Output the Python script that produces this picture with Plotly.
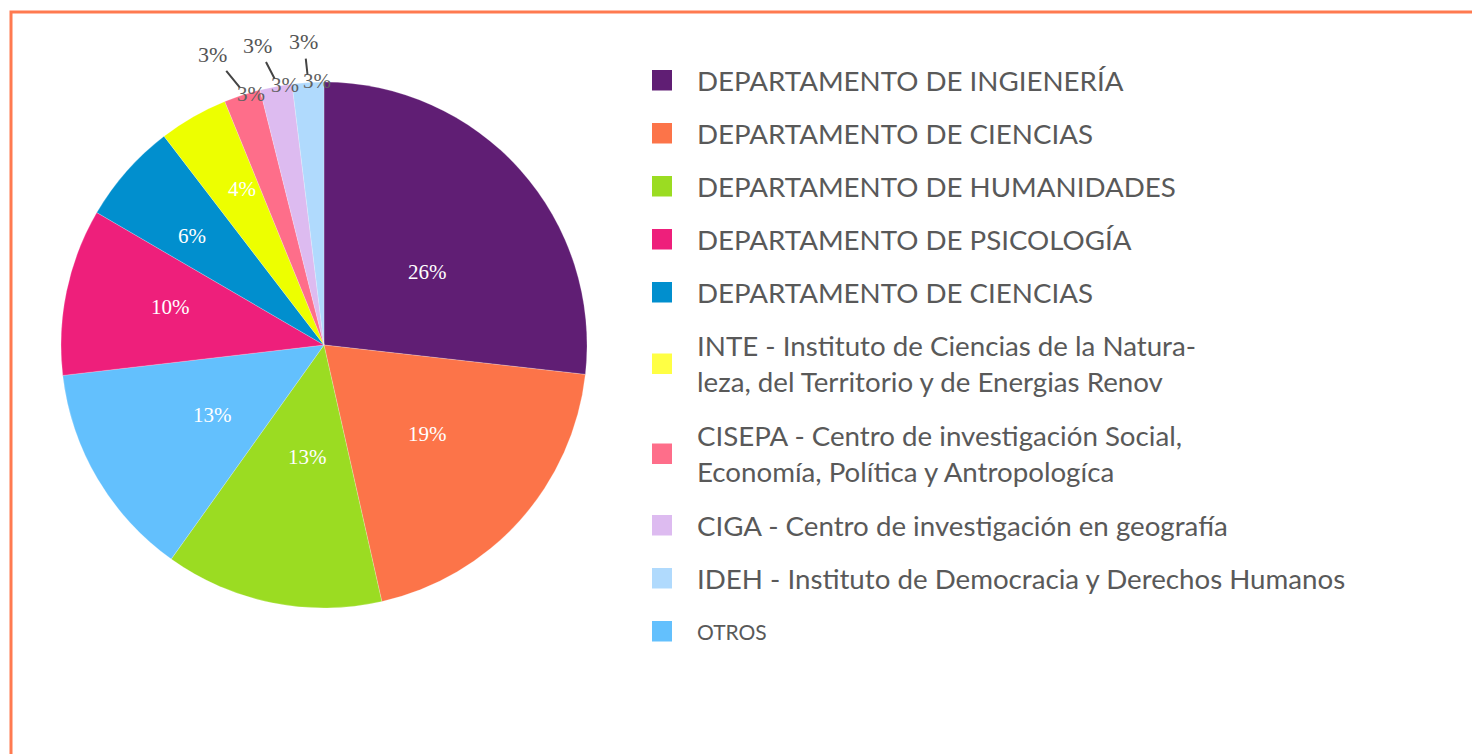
import math
import plotly.graph_objects as go

W, H = 1472, 754

# ---------------- data (legend order) ----------------
categories = [
    "DEPARTAMENTO DE INGIENERÍA",
    "DEPARTAMENTO DE CIENCIAS",
    "DEPARTAMENTO DE HUMANIDADES",
    "DEPARTAMENTO DE PSICOLOGÍA",
    "DEPARTAMENTO DE CIENCIAS",
    "INTE - Instituto de Ciencias de la Natura-<br>leza, del Territorio y de Energias Renov",
    "CISEPA - Centro de investigación Social,<br>Economía, Política y Antropologíca",
    "CIGA - Centro de investigación en geografía",
    "IDEH - Instituto de Democracia y Derechos Humanos",
    "OTROS",
]
shares = [26.8, 19.7, 13.4, 10.25, 6.2, 4.25, 2.25, 1.97, 1.94, 13.3]
pct_labels = ["26%", "19%", "13%", "10%", "6%", "4%", "3%", "3%", "3%", "13%"]
colors = ["#601E74", "#FC7449", "#9BDC22", "#EE1F7B", "#018FCE",
          "#EDFF00", "#FE6E8A", "#DDBBF0", "#B0DAFD", "#63C0FD"]
legend_colors = ["#601E74", "#FC7449", "#9BDC22", "#EE1F7B", "#018FCE",
                 "#FFFF44", "#FE6E8A", "#DDBBF0", "#B0DAFD", "#63C0FD"]
# order of the slices clockwise from 12 o'clock
pie_order = [0, 1, 2, 9, 3, 4, 5, 6, 7, 8]

# ---------------- layout / style settings (pie order) ----------------
CX, CY, R = 324, 345, 263  # pie centre / radius in px
label_rfrac = [0.48, 0.52, 0.43, 0.50, 0.60, 0.65, 0.67, 1.0, 1.0, 1.0]
label_dang = [6.5, -1.0, -3.0, -1.5, 2.0, -1.7, 2.2, 0, 0, 0]
out_dang = [0, 0, 0, 0, 0, 0, 0, -2.8, -2.0, -0.3]
out_r = [0, 0, 0, 0, 0, 0, 0, 48, 44, 41]
TXT = "#595959"
SERIF = "Liberation Serif"
SANS = "Lato"


def px2paper(x, y):
    return x / W, 1 - y / H


def polar(r, ang_deg):
    a = math.radians(ang_deg)
    return CX + r * math.sin(a), CY - r * math.cos(a)


p_labels = [categories[i].replace("<br>", " ") + "\u200b" * k for k, i in enumerate(pie_order)]
p_values = [shares[i] for i in pie_order]
p_colors = [colors[i] for i in pie_order]
p_text = [pct_labels[i] for i in pie_order]

fig = go.Figure()
fig.add_trace(go.Pie(
    labels=p_labels,
    values=p_values,
    text=p_text,
    textinfo="none",
    marker=dict(colors=p_colors, line=dict(color="rgba(255,255,255,0.35)", width=0.6)),
    sort=False,
    direction="clockwise",
    rotation=0,
    showlegend=False,
    hoverinfo="label+text",
    domain=dict(x=[(CX - R) / W, (CX + R) / W],
                y=[1 - (CY + R) / H, 1 - (CY - R) / H]),
))

annotations = []
shapes = []

# percentage labels, positioned from the cumulative slice angles
total = sum(p_values)
cum = 0.0
for k, v in enumerate(p_values):
    a0 = cum / total * 360
    cum += v
    a1 = cum / total * 360
    mid = (a0 + a1) / 2
    if v >= 3:
        x, y = px2paper(*polar(label_rfrac[k] * R, mid + label_dang[k]))
        annotations.append(dict(x=x, y=y, xref="paper", yref="paper", text=p_text[k],
                                showarrow=False, xanchor="center", yanchor="middle",
                                font=dict(family=SERIF, size=21, color="white")))
        continue
    # thin slice: label on the rim
    x, y = px2paper(*polar(R, mid))
    annotations.append(dict(x=x, y=y, xref="paper", yref="paper", text=p_text[k],
                            showarrow=False, xanchor="center", yanchor="middle",
                            xshift=9, yshift=1,
                            font=dict(family=SERIF, size=21, color="#606060")))
    # thin slice: outside label with leader line
    tx, ty = polar(R + 8, mid)
    ox, oy = polar(R + out_r[k], mid + out_dang[k])
    x, y = px2paper(tx, ty)
    annotations.append(dict(x=x, y=y, xref="paper", yref="paper", text=p_text[k],
                            showarrow=True, arrowhead=0, arrowwidth=2, arrowcolor="#444",
                            ax=ox - tx, ay=oy - ty, standoff=0, startstandoff=3,
                            font=dict(family=SERIF, size=22, color="#555555")))

# custom legend (legend order differs from slice order)
y_cursor = 80
for i, name in enumerate(categories):
    lines = name.count("<br>") + 1
    yc = y_cursor + 18.5 * (lines - 1)
    size = 21 if name == "OTROS" else 27.7
    shapes.append(dict(type="rect", xref="paper", yref="paper",
                       x0=652 / W, x1=672 / W,
                       y0=1 - (yc + 10.5) / H, y1=1 - (yc - 10) / H,
                       fillcolor=legend_colors[i], line=dict(width=0)))
    x, y = px2paper(695, yc)
    annotations.append(dict(x=x, y=y, xref="paper", yref="paper", text=name,
                            showarrow=False, xanchor="left", yanchor="middle", align="left",
                            font=dict(family=SANS, size=size, color=TXT)))
    y_cursor = yc + 18.5 * (lines - 1) + 53

# orange frame
shapes.append(dict(type="rect", xref="paper", yref="paper",
                   x0=11 / W, x1=1.02, y0=-0.02, y1=1 - 12 / H,
                   line=dict(color="#FF7A50", width=3), fillcolor="rgba(0,0,0,0)"))

fig.update_layout(
    width=W, height=H,
    margin=dict(l=0, r=0, t=0, b=0),
    paper_bgcolor="white",
    plot_bgcolor="white",
    annotations=annotations,
    shapes=shapes,
    showlegend=False,
)

fig.write_html("out.html", config={"displayModeBar": False},
               post_script="document.body.style.margin='0';document.body.style.overflow='hidden';")
